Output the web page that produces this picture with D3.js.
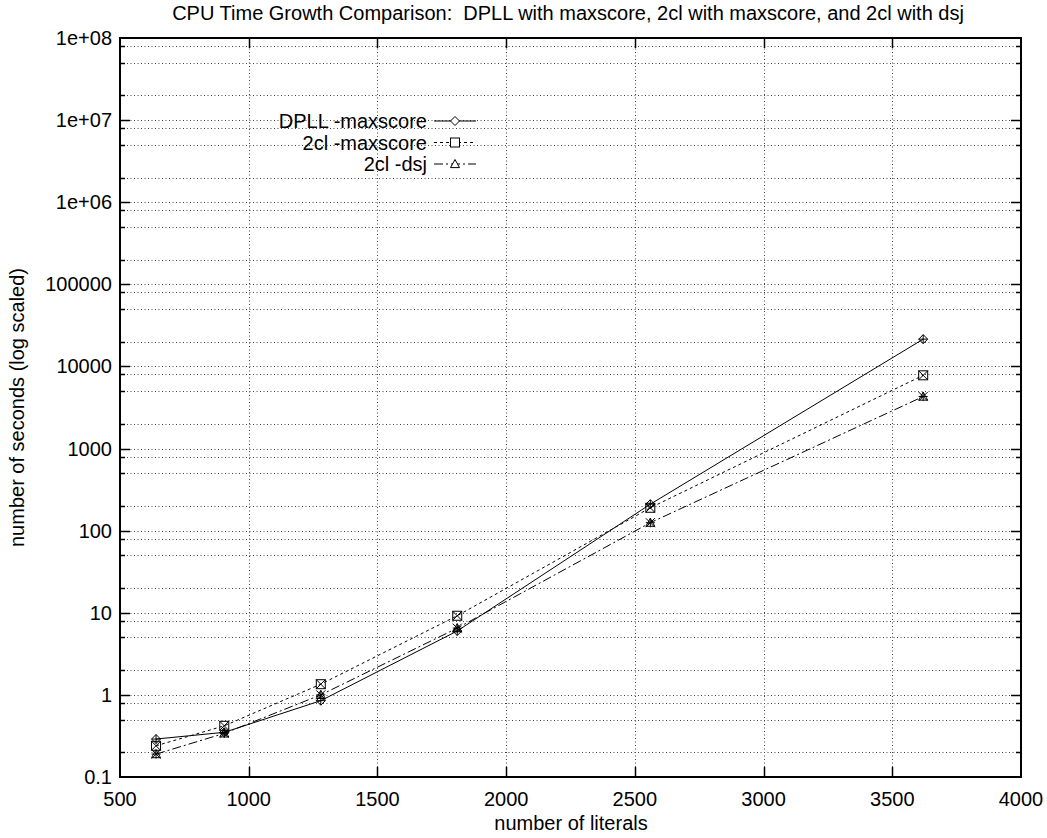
<!DOCTYPE html>
<html>
<head>
<meta charset="utf-8">
<script src="https://cdn.jsdelivr.net/npm/d3@7"></script>
<style>
  body { margin: 0; background: #fff; }
  text { font-family: "Liberation Sans", Arial, sans-serif; white-space: pre; }
</style>
</head>
<body>
<svg id="svg"></svg>
<script>
////////////////////////////////////////////////////////////////////////
// data

let literals = [640, 905, 1280, 1810, 2560, 3620];
let dpllMaxscore = [0.29, 0.35, 0.85, 6.0, 210, 21500];
let twoclMaxscore = [0.24, 0.42, 1.35, 9.2, 190, 7800];
let twoclDsj = [0.19, 0.34, 1.0, 6.5, 125, 4300];

let seriesNames = ["DPLL -maxscore", "2cl -maxscore", "2cl -dsj"];
let xTicks = [500, 1000, 1500, 2000, 2500, 3000, 3500, 4000];
let yTicks = [0.1, 1, 10, 100, 1000, 10000, 100000, 1e6, 1e7, 1e8];
let yTickLabels = ["0.1", "1", "10", "100", "1000", "10000", "100000", "1e+06", "1e+07", "1e+08"];
let yMinorMult = [2, 5, 8];

////////////////////////////////////////////////////////////////////////
// layout

let width = 1047, height = 838;
let plotLeft = 120, plotRight = 1021, plotTop = 38, plotBottom = 777;
let fontSize = 20;

let svg = d3.select("#svg").attr("width", width).attr("height", height);

let x = d3.scaleLinear().domain([500, 4000]).range([plotLeft, plotRight]);
let y = d3.scaleLog().domain([0.1, 1e8]).range([plotBottom, plotTop]);

// grid values: decades plus 2,5,8 multiples
let gridY = [];
yTicks.forEach(function(t) {
  gridY.push(t);
  if (t < 1e8) yMinorMult.forEach(function(m) { gridY.push(t * m); });
});
gridY = gridY.filter(function(v) { return v > 0.1 && v < 1e8; });

let grid = svg.append("g")
  .attr("stroke", "#444")
  .attr("stroke-width", 1)
  .attr("stroke-dasharray", "1,2.5");

grid.selectAll("line.gy").data(gridY)
  .enter().append("line")
  .attr("x1", plotLeft).attr("x2", plotRight)
  .attr("y1", function(d) { return Math.round(y(d)) + 0.5; })
  .attr("y2", function(d) { return Math.round(y(d)) + 0.5; });

grid.selectAll("line.gx").data(xTicks.slice(1, -1))
  .enter().append("line")
  .attr("y1", plotTop).attr("y2", plotBottom)
  .attr("x1", function(d) { return Math.round(x(d)) + 0.5; })
  .attr("x2", function(d) { return Math.round(x(d)) + 0.5; });

// tick marks (inward, both sides)
let ticks = svg.append("g").attr("stroke", "#000").attr("stroke-width", 1.5);
gridY.forEach(function(v) {
  let len = yTicks.indexOf(v) >= 0 ? 10 : 5;
  let yy = Math.round(y(v)) + 0.5;
  ticks.append("line").attr("x1", plotLeft).attr("x2", plotLeft + len).attr("y1", yy).attr("y2", yy);
  ticks.append("line").attr("x1", plotRight).attr("x2", plotRight - len).attr("y1", yy).attr("y2", yy);
});
xTicks.slice(1, -1).forEach(function(v) {
  let xx = Math.round(x(v)) + 0.5;
  ticks.append("line").attr("y1", plotBottom).attr("y2", plotBottom - 10).attr("x1", xx).attr("x2", xx);
  ticks.append("line").attr("y1", plotTop).attr("y2", plotTop + 10).attr("x1", xx).attr("x2", xx);
});

// frame
svg.append("rect")
  .attr("x", plotLeft).attr("y", plotTop)
  .attr("width", plotRight - plotLeft).attr("height", plotBottom - plotTop)
  .attr("fill", "none").attr("stroke", "#000").attr("stroke-width", 2);

// tick labels
svg.append("g").selectAll("text").data(xTicks).enter().append("text")
  .attr("x", function(d) { return x(d); })
  .attr("y", plotBottom + 29)
  .attr("text-anchor", "middle")
  .attr("font-size", fontSize)
  .text(function(d) { return d; });

svg.append("g").selectAll("text").data(yTicks).enter().append("text")
  .attr("x", plotLeft - 8)
  .attr("y", function(d) { return y(d) + 7; })
  .attr("text-anchor", "end")
  .attr("font-size", fontSize)
  .text(function(d, i) { return yTickLabels[i]; });

// titles
svg.append("text").attr("x", 568).attr("y", 20).attr("text-anchor", "middle")
  .attr("font-size", fontSize)
  .text("CPU Time Growth Comparison:  DPLL with maxscore, 2cl with maxscore, and 2cl with dsj");
svg.append("text").attr("x", 571).attr("y", 830).attr("text-anchor", "middle")
  .attr("font-size", fontSize).text("number of literals");
svg.append("text").attr("transform", "translate(24," + ((plotTop + plotBottom) / 2) + ") rotate(-90)")
  .attr("text-anchor", "middle").attr("font-size", fontSize)
  .text("number of seconds (log scaled)");

////////////////////////////////////////////////////////////////////////
// series

let series = [
  { name: seriesNames[0], values: dpllMaxscore, dash: null, marker: "diamond", extra: "plus" },
  { name: seriesNames[1], values: twoclMaxscore, dash: "3,3", marker: "square", extra: "cross" },
  { name: seriesNames[2], values: twoclDsj, dash: "9,3,2,3", marker: "triangle", extra: "star" }
];

let line = d3.line()
  .x(function(d) { return x(d[0]); })
  .y(function(d) { return y(d[1]); });

function drawMarker(g, kind, cx, cy) {
  let s = 4.5;
  if (kind === "diamond") {
    g.append("path").attr("d", "M" + cx + "," + (cy - s) + "L" + (cx + s) + "," + cy +
      "L" + cx + "," + (cy + s) + "L" + (cx - s) + "," + cy + "Z");
  } else if (kind === "square") {
    g.append("rect").attr("x", cx - s).attr("y", cy - s).attr("width", 2 * s).attr("height", 2 * s);
  } else if (kind === "triangle") {
    g.append("path").attr("d", "M" + cx + "," + (cy - s) + "L" + (cx + s) + "," + (cy + s * 0.8) +
      "L" + (cx - s) + "," + (cy + s * 0.8) + "Z");
  } else if (kind === "plus") {
    g.append("path").attr("d", "M" + (cx - s) + "," + cy + "H" + (cx + s) +
      "M" + cx + "," + (cy - s) + "V" + (cy + s));
  } else if (kind === "cross") {
    g.append("path").attr("d", "M" + (cx - s) + "," + (cy - s) + "L" + (cx + s) + "," + (cy + s) +
      "M" + (cx - s) + "," + (cy + s) + "L" + (cx + s) + "," + (cy - s));
  } else {
    g.append("path").attr("d", "M" + (cx - s) + "," + cy + "H" + (cx + s) +
      "M" + cx + "," + (cy - s) + "V" + (cy + s) +
      "M" + (cx - s) + "," + (cy - s) + "L" + (cx + s) + "," + (cy + s) +
      "M" + (cx - s) + "," + (cy + s) + "L" + (cx + s) + "," + (cy - s));
  }
}

series.forEach(function(s) {
  let pts = literals.map(function(l, i) { return [l, s.values[i]]; });
  svg.append("path").datum(pts)
    .attr("d", line)
    .attr("fill", "none").attr("stroke", "#000").attr("stroke-width", 1)
    .attr("stroke-dasharray", s.dash);
  let mg = svg.append("g").attr("fill", "none").attr("stroke", "#000").attr("stroke-width", 1);
  pts.forEach(function(p) {
    drawMarker(mg, s.marker, x(p[0]), y(p[1]));
    drawMarker(mg, s.extra, x(p[0]), y(p[1]));
  });
});

// legend
let legend = svg.append("g");
series.forEach(function(s, i) {
  let ly = 121 + i * 21.5;
  legend.append("text").attr("x", 427).attr("y", ly + 7).attr("text-anchor", "end")
    .attr("font-size", fontSize).text(s.name);
  legend.append("line").attr("x1", 434).attr("x2", 476).attr("y1", ly).attr("y2", ly)
    .attr("stroke", "#000").attr("stroke-width", 1).attr("stroke-dasharray", s.dash);
  let mg = legend.append("g").attr("fill", "#fff").attr("stroke", "#000").attr("stroke-width", 1);
  drawMarker(mg, s.marker, 455, ly);
});
</script>
</body>
</html>
